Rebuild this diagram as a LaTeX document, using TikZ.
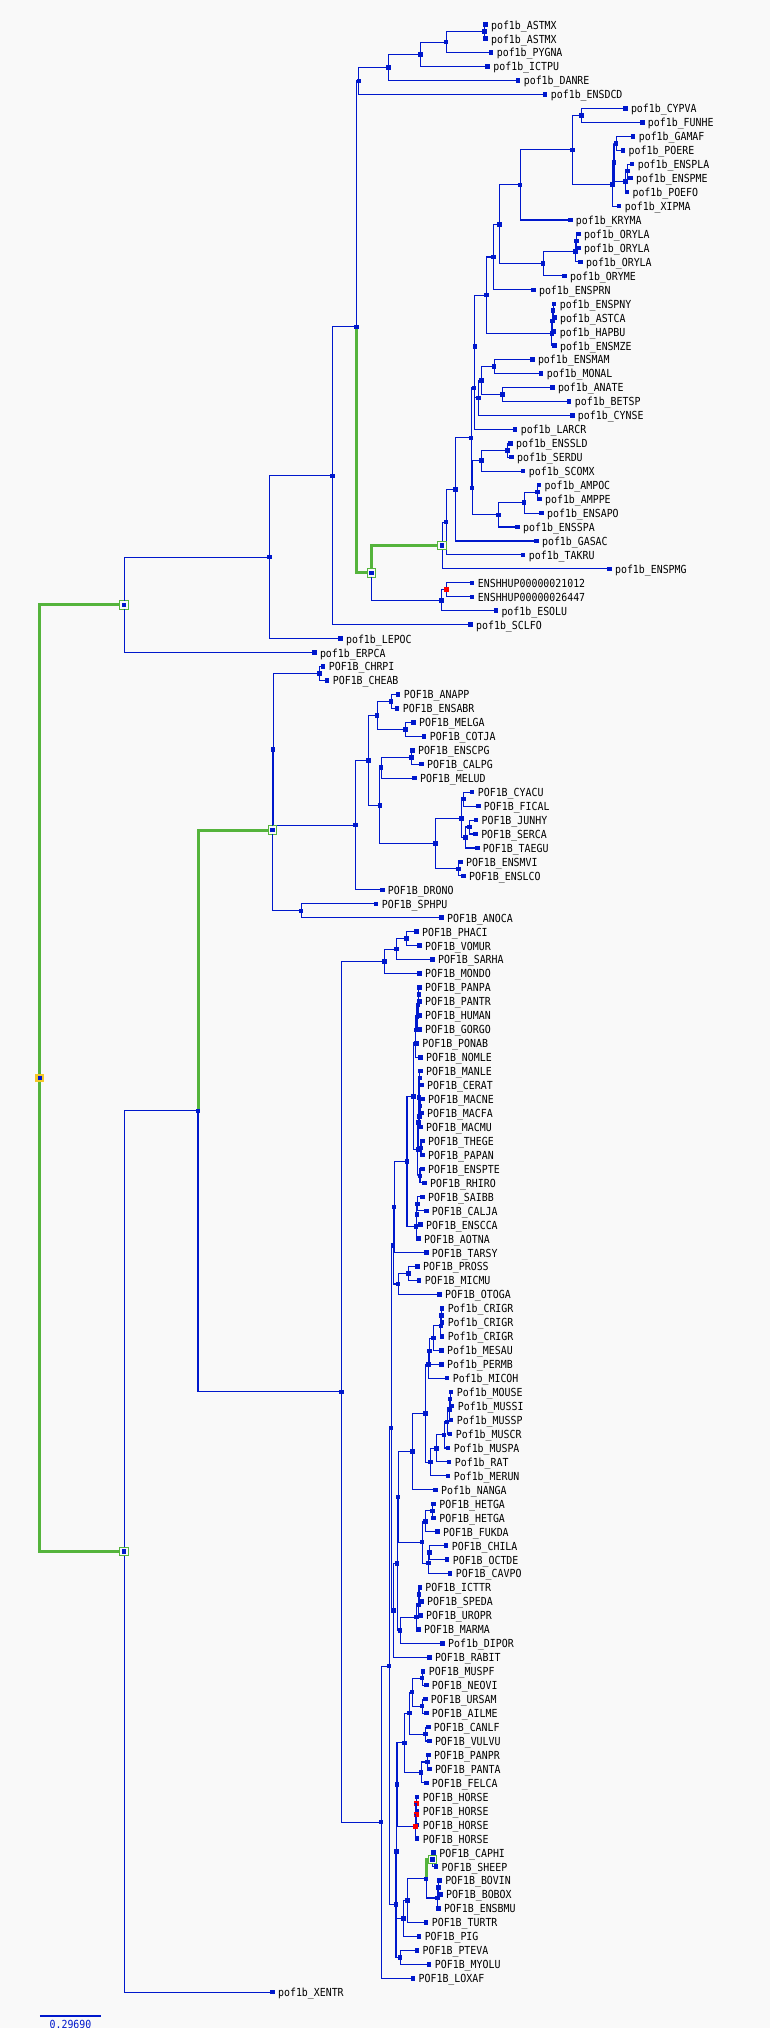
\documentclass[tikz,border=0pt]{standalone}
\usepackage{fontspec}
\setmonofont{DejaVu Sans Mono}
\usepackage{graphicx}
\definecolor{bc}{RGB}{0,24,204}
\definecolor{gc}{RGB}{85,180,60}
\definecolor{bgc}{RGB}{249,249,249}
\definecolor{yc}{RGB}{245,200,40}
\tikzset{
 lmark/.style={rectangle, fill=bc, minimum size=4.5pt, inner sep=0pt, outer sep=0pt},
 imark/.style={rectangle, fill=bc, minimum size=4.5pt, inner sep=0pt, outer sep=0pt},
 redm/.style={fill=red, minimum size=5pt},
 ringm/.style={fill=bgc, draw=gc, line width=0.9pt, minimum size=8.5pt,
   path picture={\fill[bc] ([xshift=-2.2pt,yshift=-2.2pt]path picture bounding box.center) rectangle ([xshift=2.2pt,yshift=2.2pt]path picture bounding box.center);}},
 rootm/.style={fill=yc, minimum size=8.5pt,
   path picture={\fill[bc] ([xshift=-2.2pt,yshift=-2.2pt]path picture bounding box.center) rectangle ([xshift=2.2pt,yshift=2.2pt]path picture bounding box.center);}},
 ltext/.style={anchor=base west, inner sep=0pt, xshift=5.5pt, yshift=-4.4pt, font=\ttfamily\fontsize{9.9}{10}\selectfont, text=black},
 edge/.style={draw=bc, line width=1.1pt},
 gedge/.style={draw=gc, line width=3pt},
}
\newcommand\lbl[1]{\scalebox{1}[1.12]{#1}}
\newcommand\lf[4]{%
 \pgfmathsetmacro\tmpy{24.67+13.954*#2}%
 \expandafter\xdef\csname ny@#1\endcsname{\tmpy}%
 \node[lmark] (#1) at ({1.014*#3-3.37},-\tmpy) {};%
 \node[ltext] (#1t) at (#1.center) {\lbl{#4}};%
}
\newcommand\innx[7][]{%
 \edef\tmpya{\csname ny@#4\endcsname}\edef\tmpyb{\csname ny@#5\endcsname}%
 \pgfmathsetmacro\tmpy{(\tmpya+\tmpyb)/2}%
 \expandafter\xdef\csname ny@#2\endcsname{\tmpy}%
 \node[imark,#1] (#2) at ({1.014*#3-3.37},-\tmpy) {};%
 \draw[#6] (#2) |- (#4);%
 \draw[#7] (#2) |- (#5);%
}
\newcommand\inn[5][]{\innx[#1]{#2}{#3}{#4}{#5}{edge}{edge}}
\begin{document}
\begin{tikzpicture}[x=1pt,y=1pt]
\useasboundingbox (0,0) rectangle (770,-2028);
\fill[bgc] (0,0) rectangle (770,-2028);
% ---------- leaves: fish ----------
\lf{n0}{0}{482}{pof1b\_ASTMX}
\lf{n1}{1}{482}{pof1b\_ASTMX}
\lf{n2}{2}{487.7}{pof1b\_PYGNA}
\lf{n3}{3}{484.3}{pof1b\_ICTPU}
\lf{n4}{4}{514.3}{pof1b\_DANRE}
\lf{n5}{5}{541}{pof1b\_ENSDCD}
\lf{n6}{6}{620}{pof1b\_CYPVA}
\lf{n7}{7}{636.7}{pof1b\_FUNHE}
\lf{n8}{8}{627.7}{pof1b\_GAMAF}
\lf{n9}{9}{617.7}{pof1b\_POERE}
\lf{n10}{10}{626.7}{pof1b\_ENSPLA}
\lf{n11}{11}{625}{pof1b\_ENSPME}
\lf{n12}{12}{621.5}{pof1b\_POEFO}
\lf{n13}{13}{614}{pof1b\_XIPMA}
\lf{n14}{14}{565.7}{pof1b\_KRYMA}
\lf{n15}{15}{573.7}{pof1b\_ORYLA}
\lf{n16}{16}{573.7}{pof1b\_ORYLA}
\lf{n17}{17}{575.7}{pof1b\_ORYLA}
\lf{n18}{18}{560}{pof1b\_ORYME}
\lf{n19}{19}{529.3}{pof1b\_ENSPRN}
\lf{n20}{20}{549.8}{pof1b\_ENSPNY}
\lf{n21}{21}{550}{pof1b\_ASTCA}
\lf{n22}{22}{549.8}{pof1b\_HAPBU}
\lf{n23}{23}{550}{pof1b\_ENSMZE}
\lf{n24}{24}{528.3}{pof1b\_ENSMAM}
\lf{n25}{25}{537}{pof1b\_MONAL}
\lf{n26}{26}{548}{pof1b\_ANATE}
\lf{n27}{27}{564.7}{pof1b\_BETSP}
\lf{n28}{28}{567.7}{pof1b\_CYNSE}
\lf{n29}{29}{511.3}{pof1b\_LARCR}
\lf{n30}{30}{506.7}{pof1b\_ENSSLD}
\lf{n31}{31}{507.7}{pof1b\_SERDU}
\lf{n32}{32}{519.3}{pof1b\_SCOMX}
\lf{n33}{33}{534.8}{pof1b\_AMPOC}
\lf{n34}{34}{535.3}{pof1b\_AMPPE}
\lf{n35}{35}{537.3}{pof1b\_ENSAPO}
\lf{n36}{36}{513.7}{pof1b\_ENSSPA}
\lf{n37}{37}{532.3}{pof1b\_GASAC}
\lf{n38}{38}{519.3}{pof1b\_TAKRU}
\lf{n39}{39}{604.3}{pof1b\_ENSPMG}
\lf{n40}{40}{469}{ENSHHUP00000021012}
\lf{n41}{41}{469}{ENSHHUP00000026447}
\lf{n42}{42}{492.3}{pof1b\_ESOLU}
\lf{n43}{43}{467.3}{pof1b\_SCLFO}
\lf{n44}{44}{339}{pof1b\_LEPOC}
\lf{n45}{45}{313.3}{pof1b\_ERPCA}
% ---------- leaves: sauropsids ----------
\lf{n46}{46}{322}{POF1B\_CHRPI}
\lf{n47}{47}{326}{POF1B\_CHEAB}
\lf{n48}{48}{396}{POF1B\_ANAPP}
\lf{n49}{49}{395}{POF1B\_ENSABR}
\lf{n50}{50}{411}{POF1B\_MELGA}
\lf{n51}{51}{421.7}{POF1B\_COTJA}
\lf{n52}{52}{410}{POF1B\_ENSCPG}
\lf{n53}{53}{419}{POF1B\_CALPG}
\lf{n54}{54}{412}{POF1B\_MELUD}
\lf{n55}{55}{469}{POF1B\_CYACU}
\lf{n56}{56}{475}{POF1B\_FICAL}
\lf{n57}{57}{472.7}{POF1B\_JUNHY}
\lf{n58}{58}{472.3}{POF1B\_SERCA}
\lf{n59}{59}{474}{POF1B\_TAEGU}
\lf{n60}{60}{457.3}{POF1B\_ENSMVI}
\lf{n61}{61}{460.3}{POF1B\_ENSLCO}
\lf{n62}{62}{380.3}{POF1B\_DRONO}
\lf{n63}{63}{374.3}{POF1B\_SPHPU}
\lf{n64}{64}{438.7}{POF1B\_ANOCA}
% ---------- leaves: mammals ----------
\lf{n65}{65}{414}{POF1B\_PHACI}
\lf{n66}{66}{417}{POF1B\_VOMUR}
\lf{n67}{67}{429.7}{POF1B\_SARHA}
\lf{n68}{68}{417}{POF1B\_MONDO}
\lf{n69}{69}{417}{POF1B\_PANPA}
\lf{n70}{70}{417}{POF1B\_PANTR}
\lf{n71}{71}{417}{POF1B\_HUMAN}
\lf{n72}{72}{417}{POF1B\_GORGO}
\lf{n73}{73}{414.3}{POF1B\_PONAB}
\lf{n74}{74}{418}{POF1B\_NOMLE}
\lf{n75}{75}{418}{POF1B\_MANLE}
\lf{n76}{76}{419}{POF1B\_CERAT}
\lf{n77}{77}{420}{POF1B\_MACNE}
\lf{n78}{78}{419}{POF1B\_MACFA}
\lf{n79}{79}{418}{POF1B\_MACMU}
\lf{n80}{80}{420}{POF1B\_THEGE}
\lf{n81}{81}{420}{POF1B\_PAPAN}
\lf{n82}{82}{420}{POF1B\_ENSPTE}
\lf{n83}{83}{422}{POF1B\_RHIRO}
\lf{n84}{84}{420}{POF1B\_SAIBB}
\lf{n85}{85}{423.7}{POF1B\_CALJA}
\lf{n86}{86}{418}{POF1B\_ENSCCA}
\lf{n87}{87}{416}{POF1B\_AOTNA}
\lf{n88}{88}{423.7}{POF1B\_TARSY}
\lf{n89}{89}{415}{POF1B\_PROSS}
\lf{n90}{90}{416.7}{POF1B\_MICMU}
\lf{n91}{91}{436.7}{POF1B\_OTOGA}
\lf{n92}{92}{439.3}{Pof1b\_CRIGR}
\lf{n93}{93}{439.3}{Pof1b\_CRIGR}
\lf{n94}{94}{439.3}{Pof1b\_CRIGR}
\lf{n95}{95}{438.7}{Pof1b\_MESAU}
\lf{n96}{96}{438.7}{Pof1b\_PERMB}
\lf{n97}{97}{444.3}{Pof1b\_MICOH}
\lf{n98}{98}{448.3}{Pof1b\_MOUSE}
\lf{n99}{99}{449.3}{Pof1b\_MUSSI}
\lf{n100}{100}{448.3}{Pof1b\_MUSSP}
\lf{n101}{101}{447.3}{Pof1b\_MUSCR}
\lf{n102}{102}{445.3}{Pof1b\_MUSPA}
\lf{n103}{103}{446.3}{Pof1b\_RAT}
\lf{n104}{104}{445.3}{Pof1b\_MERUN}
\lf{n105}{105}{432.7}{Pof1b\_NANGA}
\lf{n106}{106}{431}{POF1B\_HETGA}
\lf{n107}{107}{431}{POF1B\_HETGA}
\lf{n108}{108}{434.7}{POF1B\_FUKDA}
\lf{n109}{109}{443.3}{POF1B\_CHILA}
\lf{n110}{110}{444.3}{POF1B\_OCTDE}
\lf{n111}{111}{447.3}{POF1B\_CAVPO}
\lf{n112}{112}{417.3}{POF1B\_ICTTR}
\lf{n113}{113}{419}{POF1B\_SPEDA}
\lf{n114}{114}{418}{POF1B\_UROPR}
\lf{n115}{115}{416}{POF1B\_MARMA}
\lf{n116}{116}{439.7}{Pof1b\_DIPOR}
\lf{n117}{117}{426.7}{POF1B\_RABIT}
\lf{n118}{118}{420.7}{POF1B\_MUSPF}
\lf{n119}{119}{423.7}{POF1B\_NEOVI}
\lf{n120}{120}{422.7}{POF1B\_URSAM}
\lf{n121}{121}{423.7}{POF1B\_AILME}
\lf{n122}{122}{425.7}{POF1B\_CANLF}
\lf{n123}{123}{426.7}{POF1B\_VULVU}
\lf{n124}{124}{425.9}{POF1B\_PANPR}
\lf{n125}{125}{426.7}{POF1B\_PANTA}
\lf{n126}{126}{423.7}{POF1B\_FELCA}
\lf{n127}{127}{414.8}{POF1B\_HORSE}
\lf{n128}{128}{414.8}{POF1B\_HORSE}
\lf{n129}{129}{414.8}{POF1B\_HORSE}
\lf{n130}{130}{414.8}{POF1B\_HORSE}
\lf{n131}{131}{431}{POF1B\_CAPHI}
\lf{n132}{132}{433.3}{POF1B\_SHEEP}
\lf{n133}{133}{436.8}{POF1B\_BOVIN}
\lf{n134}{134}{437.6}{POF1B\_BOBOX}
\lf{n135}{135}{435.6}{POF1B\_ENSBMU}
\lf{n136}{136}{423.6}{POF1B\_TURTR}
\lf{n137}{137}{416.6}{POF1B\_PIG}
\lf{n138}{138}{414.6}{POF1B\_PTEVA}
\lf{n139}{139}{426.6}{POF1B\_MYOLU}
\lf{n140}{140}{410.6}{POF1B\_LOXAF}
\lf{n141}{141}{272}{pof1b\_XENTR}
% ---------- internal: fish ----------
\inn{A1}{481}{n0}{n1}
\inn{A2}{443.3}{A1}{n2}
\inn{A3}{418}{A2}{n3}
\inn{A4}{386.3}{A3}{n4}
\inn{A5}{357.3}{A4}{n5}
\inn{E1}{576.7}{n6}{n7}
\inn{E2}{611}{n8}{n9}
\inn{P1}{622}{n10}{n11}
\inn{F2}{620}{P1}{n12}
\inn{F1}{608.8}{E2}{F2}
\inn{F3}{607.3}{F1}{n13}
\inn{E3}{567.7}{E1}{F3}
\inn{G1}{516.3}{E3}{n14}
\inn{O1}{571.7}{n15}{n16}
\inn{O2}{570.7}{O1}{n17}
\inn{O3}{539}{O2}{n18}
\inn{G2}{495.7}{G1}{O3}
\inn{G3}{490}{G2}{n19}
\inn{H1}{548.8}{n20}{n21}
\inn{H2}{548.2}{H1}{n22}
\inn{H3}{547.5}{H2}{n23}
\inn{G4}{483}{G3}{H3}
\inn{I1}{490.7}{n24}{n25}
\inn{I2}{498.7}{n26}{n27}
\inn{I3}{478}{I1}{I2}
\inn{I4}{475.3}{I3}{n28}
\inn{I5}{471.7}{G4}{I4}
\inn{J1}{471}{I5}{n29}
\inn{K1}{503.7}{n30}{n31}
\inn{K2}{478}{K1}{n32}
\inn{AM1}{533.5}{n33}{n34}
\inn{AM2}{520.3}{AM1}{n35}
\inn{AM3}{494.7}{AM2}{n36}
\inn{M1}{469}{K2}{AM3}
\inn{J2}{468}{J1}{M1}
\inn{N1}{452.3}{J2}{n37}
\inn{N2}{443.3}{N1}{n38}
\inn[ringm]{N3}{439.3}{N2}{n39}
\inn[redm]{Q1}{443.3}{n40}{n41}
\inn{Q2}{438.7}{Q1}{n42}
\innx[ringm]{GG}{369.7}{N3}{Q2}{gedge}{edge}
\innx{B1}{354.7}{A5}{GG}{edge}{gedge}
\inn{B2}{331}{B1}{n43}
\inn{B3}{269}{B2}{n44}
\inn[ringm]{C1}{125.8}{B3}{n45}
% ---------- internal: sauropsids ----------
\inn{R1}{318.3}{n46}{n47}
\inn{S1}{389}{n48}{n49}
\inn{S2}{403}{n50}{n51}
\inn{S3}{375.3}{S1}{S2}
\inn{S4}{409}{n52}{n53}
\inn{S5}{379.3}{S4}{n54}
\inn{T1}{460.3}{n55}{n56}
\inn{T2}{466.3}{n57}{n58}
\inn{T3}{462.3}{T2}{n59}
\inn{T4}{458.3}{T1}{T3}
\inn{T5}{455.3}{n60}{n61}
\inn{T6}{432.7}{T4}{T5}
\inn{S6}{378}{S5}{T6}
\inn{S7}{366.7}{S3}{S6}
\inn{S8}{353.7}{S7}{n62}
\inn{U1}{272.6}{R1}{S8}
\inn{U2}{300.3}{n63}{n64}
\inn[ringm]{U3}{272}{U1}{U2}
% ---------- internal: mammals ----------
\inn{V1}{404}{n65}{n66}
\inn{V2}{394.3}{V1}{n67}
\inn{V3}{382.3}{V2}{n68}
\inn{Y1}{416.3}{n69}{n70}
\inn{Y2}{415.6}{Y1}{n71}
\inn{Y3}{414.6}{Y2}{n72}
\inn{Y4}{413.5}{Y3}{n73}
\inn{Y5}{412.8}{Y4}{n74}
\inn{Z1}{417.3}{n75}{n76}
\inn{Z2}{417.5}{n77}{n78}
\inn{Z3}{417}{Z2}{n79}
\inn{Z4}{416.5}{Z1}{Z3}
\inn{Z5}{418.5}{n80}{n81}
\inn{Z6}{416}{Z4}{Z5}
\inn{Z7}{417.5}{n82}{n83}
\inn{Z8}{415.3}{Z6}{Z7}
\inn{Cat}{411}{Y5}{Z8}
\inn{NW1}{415}{n84}{n85}
\inn{NW2}{414.5}{NW1}{n86}
\inn{NW3}{413.8}{NW2}{n87}
\inn{Anth}{404.7}{Cat}{NW3}
\inn{Hap}{392}{Anth}{n88}
\inn{Le1}{406}{n89}{n90}
\inn{Le2}{396}{Le1}{n91}
\inn{Pri}{391}{Hap}{Le2}
\inn{Cr1}{438.5}{n92}{n93}
\inn{Cr2}{438}{Cr1}{n94}
\inn{Cr3}{430.7}{Cr2}{n95}
\inn{Cr4}{426.7}{Cr3}{n96}
\inn{Cr5}{425.7}{Cr4}{n97}
\inn{Mu1}{447.3}{n98}{n99}
\inn{Mu2}{446.6}{Mu1}{n100}
\inn{Mu3}{444.3}{Mu2}{n101}
\inn{Mu4}{441.3}{Mu3}{n102}
\inn{Mu5}{433.7}{Mu4}{n103}
\inn{Mu6}{427.7}{Mu5}{n104}
\inn{Mur1}{422.7}{Cr5}{Mu6}
\inn{Mur2}{410}{Mur1}{n105}
\inn{Hg1}{430}{n106}{n107}
\inn{Hg2}{422.7}{Hg1}{n108}
\inn{Ch1}{426.7}{n109}{n110}
\inn{Ch2}{425.7}{Ch1}{n111}
\inn{Hys}{419.7}{Hg2}{Ch2}
\inn{Rod1}{396}{Mur2}{Hys}
\inn{Sc1}{416.5}{n112}{n113}
\inn{Sc2}{416}{Sc1}{n114}
\inn{Sc3}{414}{Sc2}{n115}
\inn{Sc4}{398}{Sc3}{n116}
\inn{Rod}{395}{Rod1}{Sc4}
\inn{Gli}{391.3}{Rod}{n117}
\inn{Euar}{389}{Pri}{Gli}
\inn{Ms1}{419.7}{n118}{n119}
\inn{Ur1}{419.7}{n120}{n121}
\inn{Arc1}{409.7}{Ms1}{Ur1}
\inn{Can1}{422.7}{n122}{n123}
\inn{Carn1}{407}{Arc1}{Can1}
\inn{Pa1}{425}{n124}{n125}
\inn{Fel1}{418.7}{Pa1}{n126}
\inn{Carn}{402}{Carn1}{Fel1}
\inn[redm]{Eq1}{414.2}{n127}{n128}
\inn[redm]{Eq2}{413.6}{Eq1}{n129}
\inn[redm]{Eq3}{413}{Eq2}{n130}
\inn{LA1}{394.8}{Carn}{Eq3}
\inn[ringm]{Cap}{430}{n131}{n132}
\inn{Bos}{435.9}{n133}{n134}
\inn{Bos2}{434.6}{Bos}{n135}
\innx{Bov}{423.6}{Cap}{Bos2}{gedge}{edge}
\inn{Cet}{405}{Bov}{n136}
\inn{Art}{401}{Cet}{n137}
\inn{LA2}{394.3}{LA1}{Art}
\inn{Chi}{398}{n138}{n139}
\inn{LA3}{393.8}{LA2}{Chi}
\inn{Boreo}{387}{Euar}{LA3}
\inn{X}{379.3}{Boreo}{n140}
\inn{W}{340}{V3}{X}
% ---------- backbone ----------
\innx{D}{198.6}{U3}{W}{gedge}{edge}
\inn[ringm]{C0}{125.8}{D}{n141}
\innx[rootm]{R}{42.5}{C1}{C0}{gedge}{gedge}
% ---------- scale bar ----------
\coordinate (sb1) at (39.9,-2015.8);
\coordinate (sb2) at (100.7,-2015.8);
\draw[bc, line width=1.8pt] (sb1) -- (sb2);
\node[anchor=base, inner sep=0pt, font=\ttfamily\fontsize{9.9}{10}\selectfont, text=bc] (sbt) at (70.5,-2028.5) {\lbl{0.29690}};
\end{tikzpicture}
\end{document}
